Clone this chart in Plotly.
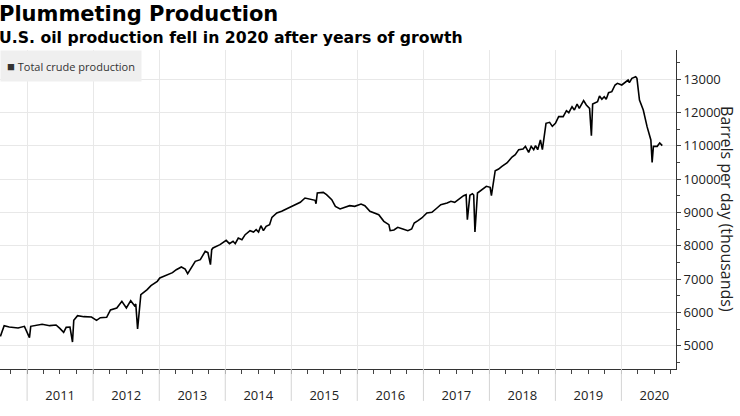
import plotly.graph_objects as go

# weekly US crude output (thousand barrels per day)
dates = [
    # 2010 - 2013
    "2010-08-06", "2010-08-27", "2010-09-24", "2010-11-12", "2010-12-17", "2011-01-14", "2011-01-21",
    "2011-02-18", "2011-03-25", "2011-05-06", "2011-06-10", "2011-07-01", "2011-07-22", "2011-08-05",
    "2011-08-26", "2011-09-09", "2011-09-16", "2011-10-07", "2011-11-11", "2011-12-23", "2012-01-20",
    "2012-02-10", "2012-03-16", "2012-04-06", "2012-05-11", "2012-06-08", "2012-07-03", "2012-07-27",
    "2012-08-17", "2012-08-24", "2012-09-03", "2012-09-21", "2012-10-26", "2012-11-16", "2012-12-21",
    "2013-01-04", "2013-02-08", "2013-03-15", "2013-04-05", "2013-05-03", "2013-05-24", "2013-06-07",
    "2013-07-19", "2013-08-16", "2013-09-12", "2013-09-27", "2013-10-11", "2013-10-18", "2013-10-25",
    "2013-12-03",
    # 2014 - 2015
    "2014-01-06", "2014-01-24", "2014-02-13", "2014-02-25", "2014-03-14", "2014-04-03", "2014-04-21",
    "2014-05-18", "2014-06-06", "2014-06-21", "2014-07-04", "2014-07-17", "2014-07-31", "2014-08-15",
    "2014-09-03", "2014-09-16", "2014-10-13", "2014-11-09", "2014-12-16", "2015-01-23", "2015-02-20",
    "2015-03-18", "2015-04-16", "2015-05-13", "2015-05-18", "2015-05-25", "2015-06-27", "2015-07-15",
    "2015-08-13", "2015-09-02", "2015-09-28", "2015-10-16", "2015-11-20", "2015-12-18",
    # 2016 - 2017
    "2016-01-22", "2016-02-12", "2016-03-11", "2016-04-29", "2016-05-27", "2016-06-24", "2016-07-01",
    "2016-07-22", "2016-08-12", "2016-09-09", "2016-10-07", "2016-10-28", "2016-11-11", "2016-12-02",
    "2016-12-23", "2017-01-20", "2017-02-17", "2017-03-17", "2017-04-07", "2017-05-12", "2017-06-02",
    "2017-06-23", "2017-07-21", "2017-08-11", "2017-08-25", "2017-09-01", "2017-09-15", "2017-09-29",
    "2017-10-06", "2017-10-13", "2017-10-27", "2017-11-17", "2017-12-15",
    # 2018 - 2019
    "2018-01-05", "2018-01-12", "2018-02-02", "2018-02-21", "2018-03-11", "2018-04-08", "2018-05-06",
    "2018-05-24", "2018-06-12", "2018-07-06", "2018-07-19", "2018-08-06", "2018-08-20", "2018-09-03",
    "2018-09-13", "2018-09-25", "2018-10-10", "2018-10-21", "2018-11-10", "2018-11-30", "2018-12-15",
    "2019-01-01", "2019-01-19", "2019-02-13", "2019-03-03", "2019-03-16", "2019-04-03", "2019-04-16",
    "2019-05-01", "2019-05-13", "2019-06-06", "2019-06-21", "2019-07-09", "2019-07-19", "2019-07-26",
    "2019-08-22", "2019-09-02", "2019-09-15", "2019-09-28", "2019-10-09", "2019-10-22", "2019-11-09",
    "2019-11-27", "2019-12-10",
    # 2020
    "2020-01-03", "2020-02-07", "2020-02-14", "2020-02-28", "2020-03-20", "2020-03-27", "2020-04-10",
    "2020-05-01", "2020-05-22", "2020-06-12", "2020-06-19", "2020-06-26", "2020-07-17", "2020-07-31",
    "2020-08-14",
]
production = [
    # 2010 - 2013
    5275, 5600, 5560, 5530, 5580, 5240, 5580,
    5600, 5640, 5600, 5620, 5520, 5400, 5550,
    5560, 5110, 5760, 5900, 5870, 5860, 5760,
    5840, 5850, 6070, 6130, 6330, 6130, 6350,
    6200, 6250, 5500, 6530, 6680, 6800, 6930,
    7030, 7100, 7190, 7280, 7360, 7300, 7160,
    7530, 7580, 7830, 7790, 7430, 7880, 7930,
    8030,
    # 2014 - 2015
    8160, 8060, 8130, 8060, 8230, 8180, 8330,
    8450, 8410, 8480, 8410, 8600, 8450, 8580,
    8630, 8850, 8980, 9030, 9130, 9230, 9300,
    9430, 9400, 9360, 9260, 9580, 9600, 9530,
    9380, 9180, 9100, 9130, 9200, 9180,
    # 2016 - 2017
    9250, 9200, 9030, 8930, 8730, 8630, 8450,
    8470, 8550, 8500, 8450, 8500, 8680, 8750,
    8830, 8980, 9000, 9130, 9230, 9280, 9330,
    9300, 9430, 9500, 9530, 8780, 9510, 9560,
    9520, 8410, 9580, 9660, 9780,
    # 2018 - 2019
    9750, 9500, 10250, 10300, 10380, 10480, 10660,
    10730, 10880, 10900, 10980, 10800, 10980, 10880,
    11000, 10880, 11170, 10880, 11670, 11700, 11580,
    11670, 11870, 11870, 12050, 11990, 12170, 12070,
    12250, 12120, 12350, 12220, 12120, 11300, 12250,
    12320, 12490, 12390, 12470, 12390, 12590, 12620,
    12820, 12870,
    # 2020
    12820, 12970, 12890, 13020, 13070, 13020, 12370,
    12070, 11570, 11170, 10500, 10980, 10980, 11080,
    11000,
]
year_edges = ["2011", "2012", "2013", "2014", "2015", "2016", "2017", "2018", "2019", "2020"]

fig = go.Figure()
fig.add_trace(go.Scatter(x=dates, y=production, mode="lines",
                         line=dict(color="black", width=1.6), showlegend=False))

# year separators below the axis
for yr in year_edges:
    fig.add_shape(type="line", xref="x", yref="paper", x0=yr + "-01-01", x1=yr + "-01-01",
                  y0=-0.1, y1=0, line=dict(color="#d4d4d4", width=1))

fig.add_annotation(text="Plummeting Production", xref="paper", yref="paper", x=-0.004, y=1.113,
                   xanchor="left", yanchor="middle", showarrow=False,
                   font=dict(family="DejaVu Sans", size=21, color="black", weight="bold"))
fig.add_annotation(text="U.S. oil production fell in 2020 after years of growth", xref="paper",
                   yref="paper", x=-0.004, y=1.04, xanchor="left", yanchor="middle", showarrow=False,
                   font=dict(family="DejaVu Sans", size=15.7, color="black", weight="bold"))
fig.add_annotation(text="<span style='font-size:13px'>■</span> Total crude production",
                   xref="paper", yref="paper", x=0, y=1, xanchor="left", yanchor="top",
                   showarrow=False, bgcolor="#efefef", borderpad=6,
                   font=dict(family="Open Sans", size=11, color="#333"))
fig.add_annotation(text="Barrels per day (thousands)", xref="paper", yref="paper", x=1.076, y=0.5,
                   xanchor="center", yanchor="middle", textangle=90, showarrow=False,
                   font=dict(family="Open Sans", size=16, color="#222"))

fig.update_layout(
    width=740, height=416,
    margin=dict(l=0, r=64, t=50, b=47),
    paper_bgcolor="white", plot_bgcolor="white",
    font=dict(family="Open Sans", size=13, color="#222"),
    xaxis=dict(type="date", range=["2010-08-04", "2020-10-29"], dtick="M12", tick0="2011-01-01",
               tickformat="%Y", ticklabelmode="period", showgrid=True, gridcolor="#e8e8e8",
               ticks="outside", ticklen=4, tickcolor="#444", ticklabelstandoff=10,
               minor=dict(dtick="M3", ticks="outside", ticklen=4, tickcolor="#444", showgrid=False),
               showline=True, linecolor="#333", linewidth=1, zeroline=False),
    yaxis=dict(side="right", range=[4300, 13870], dtick=1000, showgrid=True, gridcolor="#e8e8e8",
               ticks="outside", ticklen=4, tickcolor="#444",
               minor=dict(dtick=500, ticks="outside", ticklen=3, tickcolor="#444", showgrid=False),
               showline=True, linecolor="#333", linewidth=1, zeroline=False, tickformat="d"),
)

fig.write_html("out.html", config={"displayModeBar": False},
               post_script="document.body.style.margin='0';")
